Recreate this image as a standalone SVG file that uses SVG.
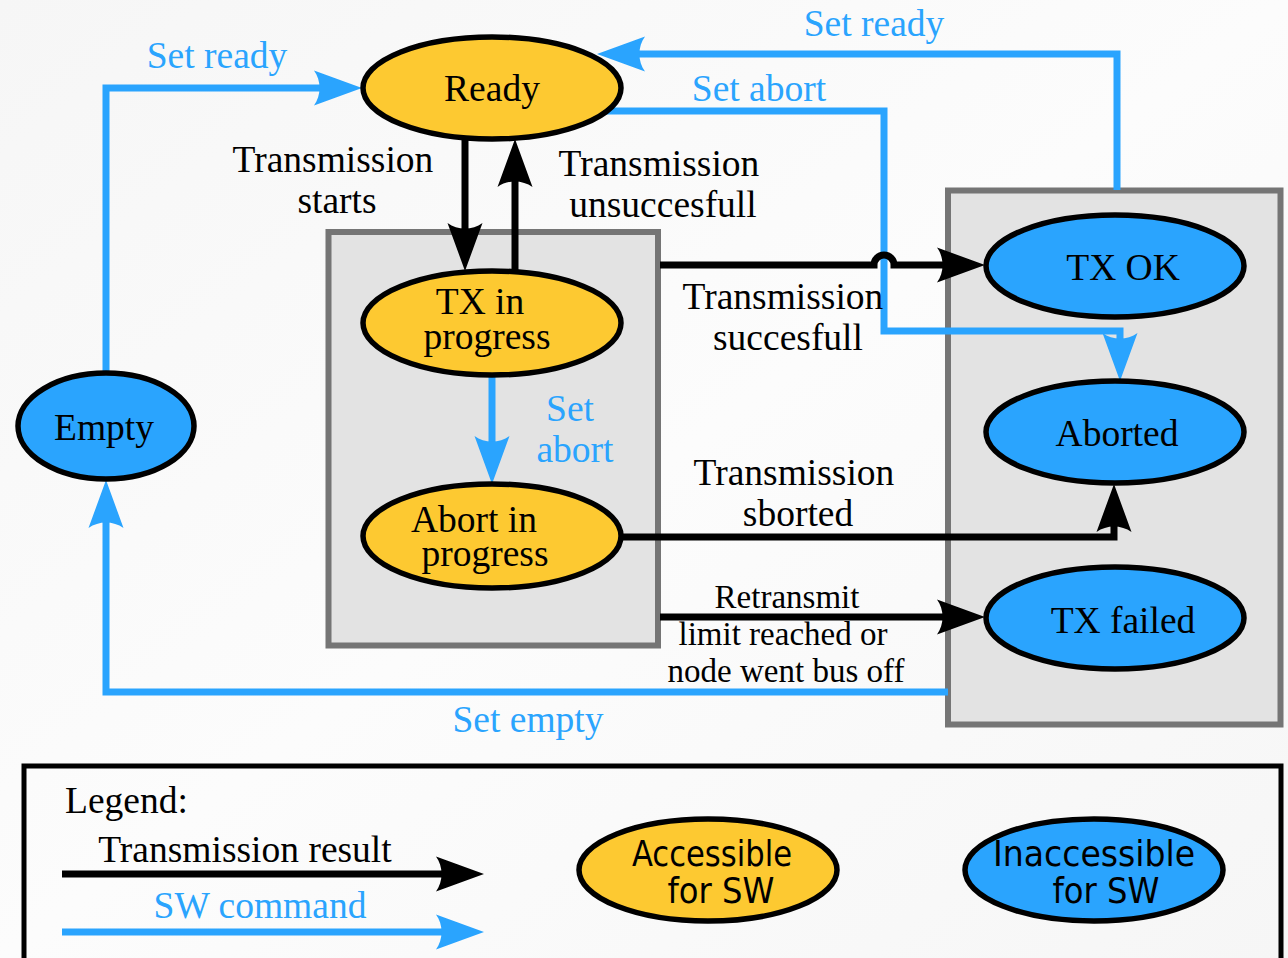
<svg xmlns="http://www.w3.org/2000/svg" width="1288" height="958" viewBox="0 0 1288 958">
  <style>
    .lbl { font-family: "Liberation Serif", "Times New Roman", serif; font-size: 37.5px; text-anchor: middle; }
    .small { font-size: 33px; }
    .blk { fill: #000; }
    .blu { fill: #2aa4fe; }
    .acc { fill: #fdc931; stroke: #000; stroke-width: 5.5; }
    .inacc { fill: #2aa4fe; stroke: #000; stroke-width: 5.5; }
    .box { fill: #e3e3e3; stroke: #757575; stroke-width: 6; }
    .res { fill: none; stroke: #000; stroke-width: 7; marker-end: url(#headBlack); }
    .cmd { fill: none; stroke: #2aa4fe; stroke-width: 7; marker-end: url(#headBlue); }
    .leg { font-family: "DejaVu Sans Condensed", "DejaVu Sans", sans-serif; font-stretch: condensed; font-size: 35px; text-anchor: middle; fill: #000; }
  </style>
  <defs>
    <linearGradient id="bg" x1="0" y1="0" x2="1" y2="1">
      <stop offset="0" stop-color="#f6f6f6"/>
      <stop offset="0.5" stop-color="#fcfcfc"/>
      <stop offset="1" stop-color="#f6f6f6"/>
    </linearGradient>
    <!-- arrowheads with a slightly hollow back; tip sits 38px past the path end -->
    <marker id="headBlack" markerUnits="userSpaceOnUse" orient="auto" refX="0" refY="0" markerWidth="60" markerHeight="40" overflow="visible">
      <path d="M38,0 L-10,-17.5 C-2.6,-7.3 -2.6,7.3 -10,17.5 Z" fill="#000"/>
    </marker>
    <marker id="headBlue" markerUnits="userSpaceOnUse" orient="auto" refX="0" refY="0" markerWidth="60" markerHeight="40" overflow="visible">
      <path d="M38,0 L-10,-17.5 C-2.6,-7.3 -2.6,7.3 -10,17.5 Z" fill="#2aa4fe"/>
    </marker>
  </defs>

  <rect x="0" y="0" width="1288" height="958" fill="url(#bg)"/>

  <!-- grouping boxes -->
  <rect id="box-accessible" class="box" x="328.5" y="232" width="329.5" height="413.5"/>
  <rect id="box-inaccessible" class="box" x="948" y="190.5" width="332.5" height="534"/>

  <!-- connectors -->
  <g id="connectors">
    <path class="res" d="M465,139 V233"/>
    <path class="res" d="M515,300 V177"/>
    <path class="cmd" d="M106,380 V88 H324"/>
    <path class="cmd" d="M1117,190 V54 H635"/>
    <path class="cmd" d="M590,111 H884 V331 H1120 V343"/>
    <path class="res" d="M660,265 H874 A10,10 0 0 1 894,265 H947"/>
    <path class="cmd" d="M492,376 V446"/>
    <path class="res" d="M600,537 H1114 V522"/>
    <path class="res" d="M660,617 H947"/>
    <path class="cmd" d="M948,692 H106 V518"/>
  </g>

  <!-- connector labels -->
  <g id="connector-labels">
    <text class="lbl blu" x="217" y="68">Set ready</text>
    <text class="lbl blu" x="874" y="36">Set ready</text>
    <text class="lbl blu" x="759" y="101">Set abort</text>
    <text class="lbl blk" x="333" y="172">Transmission</text>
    <text class="lbl blk" x="337" y="213">starts</text>
    <text class="lbl blk" x="659" y="176">Transmission</text>
    <text class="lbl blk" x="663" y="217">unsuccesfull</text>
    <text class="lbl blk" x="783" y="309">Transmission</text>
    <text class="lbl blk" x="788" y="350">succesfull</text>
    <text class="lbl blu" x="570" y="421">Set</text>
    <text class="lbl blu" x="575" y="462">abort</text>
    <text class="lbl blk" x="794" y="485">Transmission</text>
    <text class="lbl blk" x="798" y="526">sborted</text>
    <text class="lbl small blk" x="787" y="608">Retransmit</text>
    <text class="lbl small blk" x="783" y="645">limit reached or</text>
    <text class="lbl small blk" x="786" y="682">node went bus off</text>
    <text class="lbl blu" x="528" y="732">Set empty</text>
  </g>

  <!-- states -->
  <g id="node-ready">
    <ellipse class="acc" cx="492" cy="88" rx="129" ry="51"/>
    <text class="lbl blk" x="492" y="101">Ready</text>
  </g>
  <g id="node-tx-in-progress">
    <ellipse class="acc" cx="492" cy="323" rx="129" ry="52"/>
    <text class="lbl blk" x="480" y="314">TX in</text>
    <text class="lbl blk" x="487" y="349">progress</text>
  </g>
  <g id="node-abort-in-progress">
    <ellipse class="acc" cx="492" cy="536" rx="129" ry="52"/>
    <text class="lbl blk" x="474" y="532">Abort in</text>
    <text class="lbl blk" x="485" y="566">progress</text>
  </g>
  <g id="node-empty">
    <ellipse class="inacc" cx="106" cy="426" rx="88" ry="53"/>
    <text class="lbl blk" x="104" y="440">Empty</text>
  </g>
  <g id="node-tx-ok">
    <ellipse class="inacc" cx="1115" cy="266" rx="129" ry="51"/>
    <text class="lbl blk" x="1123" y="280">TX OK</text>
  </g>
  <g id="node-aborted">
    <ellipse class="inacc" cx="1115" cy="432" rx="129" ry="51"/>
    <text class="lbl blk" x="1117" y="446">Aborted</text>
  </g>
  <g id="node-tx-failed">
    <ellipse class="inacc" cx="1115" cy="618" rx="129" ry="51"/>
    <text class="lbl blk" x="1123" y="633">TX failed</text>
  </g>

  <!-- legend -->
  <g id="legend">
    <rect x="24" y="766" width="1257" height="220" fill="none" stroke="#000" stroke-width="5"/>
    <text class="lbl blk" x="65" y="813" style="text-anchor:start">Legend:</text>
    <text class="lbl blk" x="245" y="862">Transmission result</text>
    <path class="res" d="M62,874 H446"/>
    <text class="lbl blu" x="260" y="918">SW command</text>
    <path class="cmd" d="M62,932 H446"/>
    <g id="legend-accessible">
      <ellipse class="acc" cx="708" cy="870" rx="129" ry="51"/>
      <text class="leg" x="712" y="866" textLength="160" lengthAdjust="spacingAndGlyphs">Accessible</text>
      <text class="leg" x="721" y="903" textLength="107" lengthAdjust="spacingAndGlyphs">for SW</text>
    </g>
    <g id="legend-inaccessible">
      <ellipse class="inacc" cx="1094" cy="870" rx="129" ry="51"/>
      <text class="leg" x="1094" y="866" textLength="202" lengthAdjust="spacingAndGlyphs">Inaccessible</text>
      <text class="leg" x="1106" y="903" textLength="107" lengthAdjust="spacingAndGlyphs">for SW</text>
    </g>
  </g>
</svg>
